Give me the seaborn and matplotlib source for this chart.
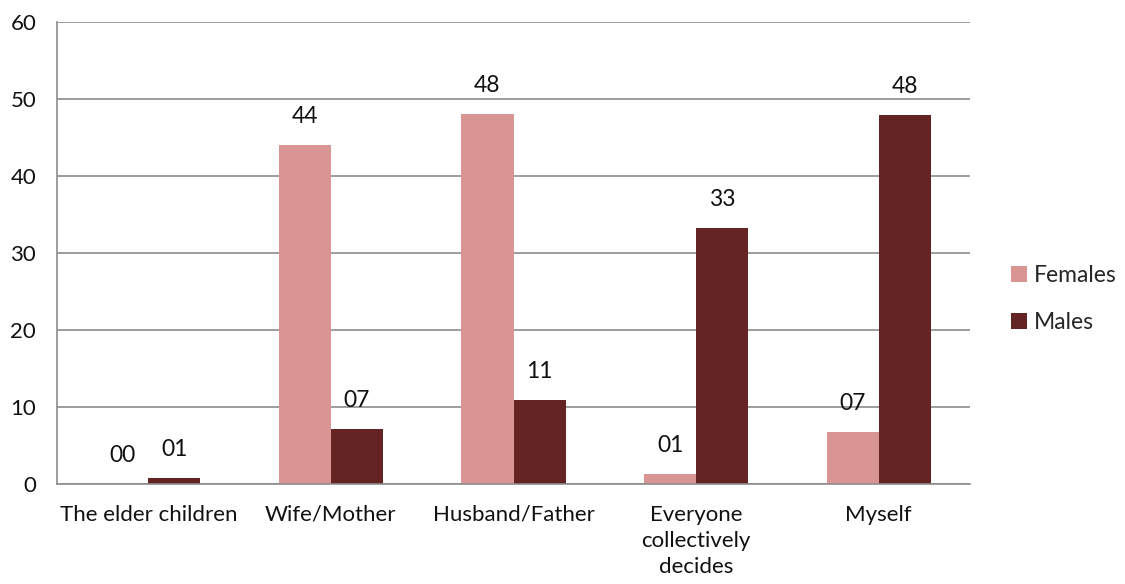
import pandas as pd
import numpy as np
import matplotlib
matplotlib.use("Agg")
import matplotlib.pyplot as plt
import seaborn as sns

# --- chart data ---
categories = ["The elder children", "Wife/Mother", "Husband/Father",
              "Everyone\ncollectively\ndecides", "Myself"]
females = [0.0, 44.0, 48.0, 1.3, 6.7]
males = [0.8, 7.1, 10.9, 33.2, 47.9]
series_names = ["Females", "Males"]
colors = ["#D99594", "#632423"]

df = pd.DataFrame({
    "category": categories * 2,
    "value": females + males,
    "series": [series_names[0]] * len(categories) + [series_names[1]] * len(categories),
})

sns.set_theme(style="white")
plt.rcParams["font.family"] = ["Lato", "DejaVu Sans"]

fig = plt.figure(figsize=(11.25, 5.84), dpi=100)
ax = fig.add_axes([57 / 1125, 1 - 484 / 584, 913 / 1125, 462 / 584])

sns.barplot(data=df, x="category", y="value", hue="series", palette=colors,
            width=0.57, order=categories, hue_order=series_names, ax=ax,
            errorbar=None, saturation=1, linewidth=0)

for cont in ax.containers:
    labels = [f"{int(round(b.get_height())):02d}" for b in cont]
    ax.bar_label(cont, labels=labels, padding=13, fontsize=16.5, color="#111111")

ax.set_ylim(0, 60)
ax.set_yticks(range(0, 61, 10))
ax.set_xlim(-0.5, len(categories) - 0.5)
ax.yaxis.grid(True, color="#8c8c8c", linewidth=1.2)
ax.set_axisbelow(True)
ax.set_xlabel("")
ax.set_ylabel("")
for side in ["top", "right"]:
    ax.spines[side].set_visible(False)
for side in ["left", "bottom"]:
    ax.spines[side].set_color("#8c8c8c")
    ax.spines[side].set_linewidth(1.2)
ax.tick_params(axis="both", length=0, labelsize=16, colors="#111111")
ax.tick_params(axis="x", pad=15)
ax.tick_params(axis="y", pad=15)
for lbl in ax.get_xticklabels():
    lbl.set_linespacing(1.38)

ax.legend(loc="center left", bbox_to_anchor=(0.045, 0.40), bbox_transform=ax.transAxes,
          frameon=False, fontsize=16.5, handlelength=0.68, handleheight=0.68,
          labelspacing=1.15, handletextpad=0.3, borderpad=0, borderaxespad=0)
leg = ax.get_legend()
leg.set_bbox_to_anchor((1.045, 0.40), transform=ax.transAxes)

fig.savefig("out.png", dpi=100)
